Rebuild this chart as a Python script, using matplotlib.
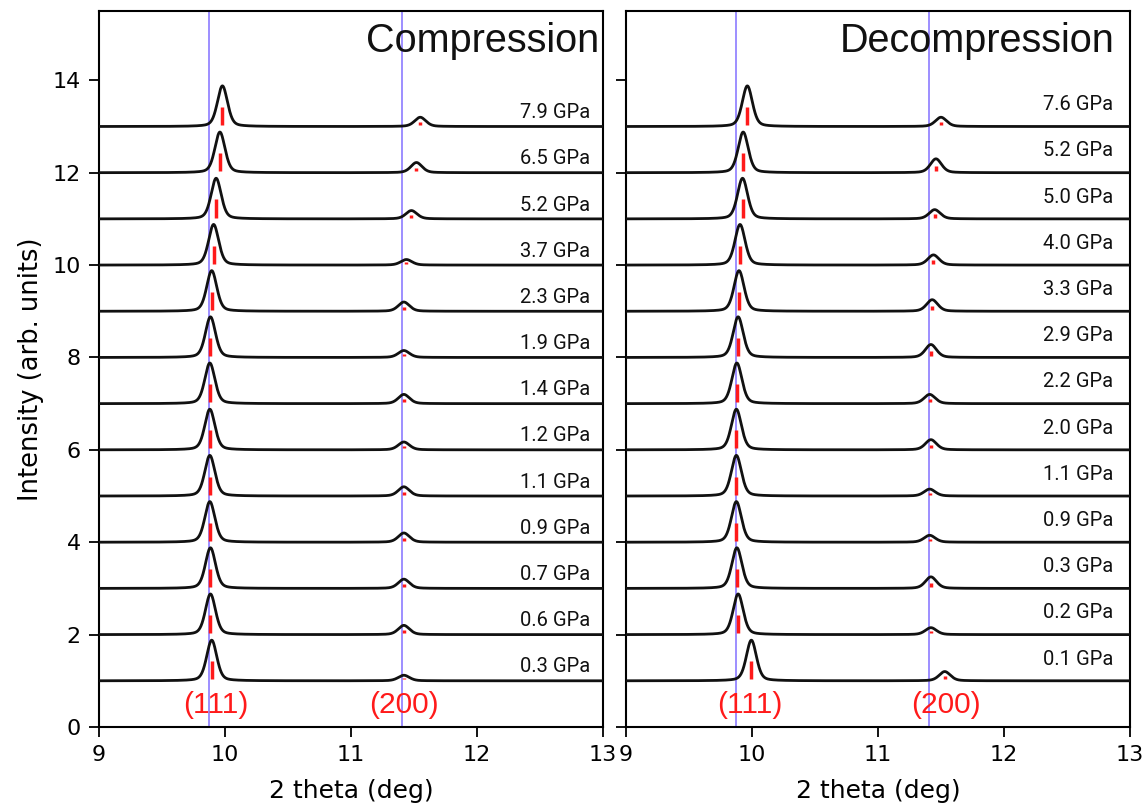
import numpy as np
import matplotlib
matplotlib.use("Agg")
import matplotlib.pyplot as plt

# ---------------- data (bottom trace first) ----------------
comp_labels = ["0.3 GPa", "0.6 GPa", "0.7 GPa", "0.9 GPa", "1.1 GPa", "1.2 GPa", "1.4 GPa",
               "1.9 GPa", "2.3 GPa", "3.7 GPa", "5.2 GPa", "6.5 GPa", "7.9 GPa"]
comp_111 = [9.895, 9.885, 9.885, 9.88, 9.88, 9.88, 9.88, 9.885, 9.895, 9.91, 9.93, 9.96, 9.98]
comp_200 = [11.42, 11.42, 11.42, 11.42, 11.42, 11.42, 11.42, 11.42, 11.42, 11.44, 11.48, 11.52, 11.55]
comp_h111 = [0.88, 0.88, 0.88, 0.88, 0.88, 0.88, 0.88, 0.88, 0.88, 0.88, 0.88, 0.88, 0.88]
comp_h200 = [0.12, 0.2, 0.2, 0.2, 0.2, 0.17, 0.2, 0.15, 0.2, 0.12, 0.18, 0.22, 0.2]

decomp_labels = ["0.1 GPa", "0.2 GPa", "0.3 GPa", "0.9 GPa", "1.1 GPa", "2.0 GPa", "2.2 GPa",
                 "2.9 GPa", "3.3 GPa", "4.0 GPa", "5.0 GPa", "5.2 GPa", "7.6 GPa"]
decomp_111 = [9.995, 9.89, 9.88, 9.876, 9.876, 9.876, 9.88, 9.89, 9.897, 9.905, 9.925, 9.93, 9.963]
decomp_200 = [11.53, 11.42, 11.42, 11.41, 11.41, 11.42, 11.41, 11.42, 11.43, 11.44, 11.45, 11.46, 11.5]
decomp_h111 = [0.88, 0.88, 0.88, 0.88, 0.88, 0.88, 0.88, 0.88, 0.88, 0.88, 0.88, 0.88, 0.88]
decomp_h200 = [0.2, 0.15, 0.25, 0.15, 0.15, 0.22, 0.2, 0.28, 0.25, 0.22, 0.2, 0.3, 0.2]

ref_lines = [9.87, 11.405]
hkl_labels = ["(111)", "(200)"]
comp_hkl_x = [9.93, 11.42]
decomp_hkl_x = [9.98, 11.54]
x_ticks = [9, 10, 11, 12, 13]
y_ticks = [0, 2, 4, 6, 8, 10, 12, 14]


def pv(x, c, h, fwhm, eta=0.35):
    s = fwhm / 2.3548
    g = np.exp(-0.5 * ((x - c) / s) ** 2)
    l = 1.0 / (1.0 + ((x - c) / (fwhm / 2)) ** 2)
    return h * (eta * l + (1 - eta) * g)


fig = plt.figure(figsize=(11.48, 8.05), dpi=100)
axL = fig.add_axes([0.0862, 0.0969, 0.439, 0.8894])
axR = fig.add_axes([0.5453, 0.0969, 0.439, 0.8894], sharey=axL)

x = np.linspace(9, 13, 2000)
annot_font = "Liberation Sans"
label_font = "Roboto"


def draw(ax, labels, p111, p200, h111, h200, title, hkl_x, lab_x, lab_dy, title_x):
    for xv in ref_lines:
        ax.axvline(xv, color="#8270ff", lw=1.1, zorder=1)
    for i, lab in enumerate(labels):
        off = i + 1
        y = off + pv(x, p111[i], h111[i], 0.095) + pv(x, p200[i], h200[i], 0.105)
        ax.plot(x, y, color="#111111", lw=2.0, zorder=3)
        for c, h in ((p111[i], h111[i]), (p200[i], h200[i])):
            ax.plot([c, c], [off + 0.03, off + 0.48 * h], color="#ff1a1a", lw=2.5,
                    solid_capstyle="butt", zorder=4)
        ax.text(lab_x, off + lab_dy, lab, ha="right", va="center", fontsize=14.5,
                family=label_font, color="#111111")
    for hx, t in zip(hkl_x, hkl_labels):
        ax.text(hx, 0.48, t, ha="center", va="center", fontsize=21.5, color="#ff1a1a",
                family=annot_font)
    ax.text(title_x, 14.85, title, ha="right", va="center", fontsize=28.5,
            family=annot_font, color="#111111")
    ax.set_xlim(9, 13)
    ax.set_ylim(0, 15.5)
    ax.set_xticks(x_ticks)
    ax.set_yticks(y_ticks)
    ax.tick_params(labelsize=16, width=1.3, length=7, pad=6)
    ax.set_xlabel("2 theta (deg)", fontsize=18, labelpad=10)
    for sp in ax.spines.values():
        sp.set_linewidth(1.5)


draw(axL, comp_labels, comp_111, comp_200, comp_h111, comp_h200, "Compression",
     comp_hkl_x, 12.9, 0.3, 12.97)
draw(axR, decomp_labels, decomp_111, decomp_200, decomp_h111, decomp_h200, "Decompression",
     decomp_hkl_x, 12.87, 0.47, 12.88)
axL.set_ylabel("Intensity (arb. units)", fontsize=18.5, labelpad=6)
plt.setp(axR.get_yticklabels(), visible=False)

fig.savefig("out.png", dpi=100)
